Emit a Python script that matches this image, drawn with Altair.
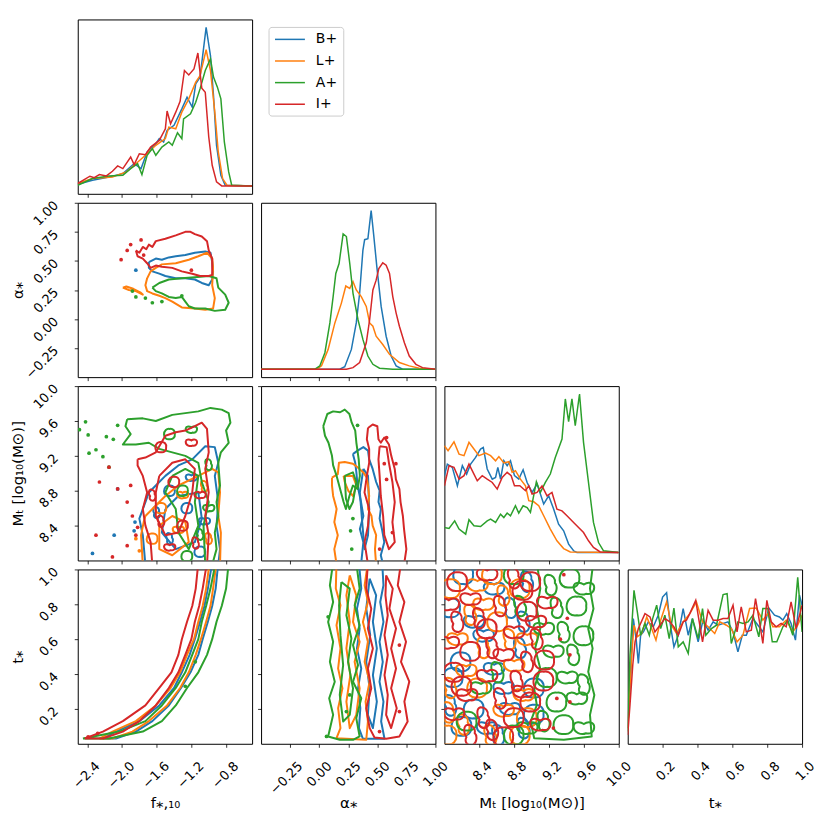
import altair as alt
import pandas as pd

FONT = "DejaVu Sans"
SERIES = ["B+", "L+", "A+", "I+"]
COLORS = ["#1f77b4", "#ff7f0e", "#2ca02c", "#d62728"]

# ---------------- axis ranges / ticks ----------------
F_DOMAIN = [-2.51, -0.5]
F_TICKS = [-2.4, -2.0, -1.6, -1.2, -0.8]
A_DOMAIN = [-0.5, 1.0]
A_TICKS = [-0.25, 0.0, 0.25, 0.5, 0.75, 1.0]
M_DOMAIN = [8.0, 10.0]
M_TICKS = [8.4, 8.8, 9.2, 9.6, 10.0]
T_DOMAIN = [0.0, 1.0]
T_TICKS = [0.2, 0.4, 0.6, 0.8, 1.0]
H_DOMAIN = [-0.05, 1.05]

F_TITLE = "f⁎,₁₀"
A_TITLE = "α⁎"
M_TITLE = "Mₜ [log₁₀(M⊙)]"
T_TITLE = "t⁎"

# ---------------- 1D marginals (relative height) ----------------
DF_X = {
    "B+": [-2.51, -2.34, -2.15, -1.99, -1.86, -1.78, -1.71, -1.61, -1.57, -1.52, -1.48, -1.40, -1.31, -1.25, -1.19, -1.15, -1.10, -1.03, -0.98, -0.945, -0.91, -0.86, -0.81, -0.5],
    "L+": [-2.51, -2.34, -2.11, -1.95, -1.84, -1.73, -1.61, -1.50, -1.46, -1.38, -1.31, -1.23, -1.15, -1.10, -1.03, -0.98, -0.93, -0.89, -0.84, -0.79, -0.5],
    "A+": [-2.51, -2.34, -2.15, -1.99, -1.90, -1.82, -1.77, -1.71, -1.65, -1.61, -1.54, -1.46, -1.42, -1.36, -1.31, -1.29, -1.21, -1.15, -1.10, -1.04, -0.98, -0.945, -0.90, -0.86, -0.82, -0.77, -0.735, -0.5],
    "I+": [-2.51, -2.37, -2.32, -2.26, -2.18, -2.11, -2.05, -1.99, -1.90, -1.86, -1.80, -1.73, -1.67, -1.57, -1.50, -1.48, -1.44, -1.38, -1.33, -1.28, -1.23, -1.17, -1.125, -1.08, -1.04, -1.00, -0.96, -0.91, -0.85, -0.5],
}
DF_H = {
    "B+": [0.01, 0.035, 0.056, 0.077, 0.14, 0.109, 0.214, 0.266, 0.298, 0.277, 0.35, 0.382, 0.486, 0.56, 0.497, 0.644, 0.686, 1.0, 0.822, 0.57, 0.256, 0.067, 0.004, 0.0],
    "L+": [0.015, 0.046, 0.056, 0.088, 0.14, 0.193, 0.256, 0.298, 0.371, 0.36, 0.465, 0.549, 0.654, 0.696, 0.859, 0.728, 0.465, 0.214, 0.046, 0.004, 0.0],
    "A+": [0.004, 0.046, 0.063, 0.067, 0.109, 0.14, 0.071, 0.193, 0.235, 0.193, 0.245, 0.277, 0.256, 0.335, 0.298, 0.423, 0.455, 0.528, 0.612, 0.728, 0.801, 0.686, 0.623, 0.549, 0.277, 0.088, 0.004, 0.0],
    "I+": [0.015, 0.061, 0.052, 0.071, 0.063, 0.092, 0.126, 0.109, 0.182, 0.134, 0.203, 0.197, 0.245, 0.287, 0.36, 0.472, 0.392, 0.465, 0.533, 0.728, 0.70, 0.738, 0.838, 0.616, 0.591, 0.31, 0.13, 0.025, 0.0, 0.0],
}

DA_X = {
    "B+": [-0.5, 0.177, 0.220, 0.277, 0.319, 0.348, 0.376, 0.391, 0.419, 0.447, 0.468, 0.496, 0.533, 0.576, 0.619, 0.662, 0.718, 1.0],
    "L+": [-0.5, -0.022, 0.020, 0.077, 0.135, 0.191, 0.229, 0.263, 0.291, 0.319, 0.362, 0.405, 0.434, 0.462, 0.490, 0.547, 0.605, 0.690, 0.775, 0.861, 1.0],
    "A+": [-0.5, -0.036, 0.006, 0.049, 0.092, 0.120, 0.143, 0.171, 0.206, 0.234, 0.263, 0.291, 0.334, 0.376, 0.419, 0.462, 0.519, 0.633, 1.0],
    "I+": [-0.5, 0.234, 0.291, 0.348, 0.405, 0.434, 0.462, 0.490, 0.513, 0.547, 0.576, 0.605, 0.633, 0.662, 0.690, 0.733, 0.775, 0.832, 0.889, 1.0],
}
DA_H = {
    "B+": [0, 0, 0.016, 0.125, 0.292, 0.479, 0.750, 0.817, 0.823, 1.0, 0.854, 0.646, 0.396, 0.208, 0.083, 0.021, 0, 0],
    "L+": [0, 0, 0.021, 0.125, 0.292, 0.417, 0.525, 0.510, 0.552, 0.500, 0.458, 0.396, 0.292, 0.271, 0.208, 0.156, 0.094, 0.042, 0.021, 0.006, 0],
    "A+": [0, 0, 0.021, 0.104, 0.292, 0.458, 0.604, 0.667, 0.854, 0.837, 0.667, 0.479, 0.312, 0.188, 0.083, 0.031, 0.006, 0, 0],
    "I+": [0, 0, 0.010, 0.042, 0.167, 0.312, 0.500, 0.562, 0.635, 0.671, 0.656, 0.604, 0.458, 0.354, 0.271, 0.167, 0.083, 0.031, 0.010, 0],
}

DM_X = {
    "B+": [8.00, 8.034, 8.091, 8.149, 8.206, 8.255, 8.301, 8.358, 8.415, 8.446, 8.491, 8.549, 8.587, 8.613, 8.644, 8.682, 8.720, 8.758, 8.804, 8.853, 8.903, 8.949, 9.006, 9.063, 9.139, 9.196, 9.253, 9.310, 9.368, 9.425, 9.482, 9.520, 10.0],
    "L+": [8.00, 8.042, 8.110, 8.168, 8.225, 8.282, 8.339, 8.396, 8.472, 8.530, 8.587, 8.625, 8.682, 8.739, 8.777, 8.815, 8.872, 8.930, 8.968, 9.025, 9.082, 9.139, 9.215, 9.291, 9.368, 9.444, 10.0],
    "A+": [8.00, 8.053, 8.118, 8.168, 8.244, 8.282, 8.339, 8.415, 8.491, 8.530, 8.587, 8.644, 8.682, 8.720, 8.758, 8.815, 8.853, 8.903, 8.949, 8.987, 9.055, 9.101, 9.158, 9.215, 9.272, 9.349, 9.387, 9.425, 9.463, 9.501, 9.550, 9.596, 9.653, 9.710, 9.768, 9.825, 10.0],
    "I+": [8.00, 8.053, 8.110, 8.168, 8.225, 8.282, 8.339, 8.377, 8.434, 8.491, 8.549, 8.606, 8.663, 8.720, 8.766, 8.804, 8.865, 8.930, 8.968, 9.006, 9.063, 9.120, 9.177, 9.234, 9.291, 9.349, 9.406, 9.482, 9.539, 9.596, 9.653, 9.710, 9.787, 10.0],
}
DM_H = {
    "B+": [0.485, 0.558, 0.537, 0.421, 0.548, 0.495, 0.558, 0.600, 0.653, 0.663, 0.527, 0.463, 0.474, 0.537, 0.463, 0.579, 0.548, 0.579, 0.485, 0.463, 0.522, 0.442, 0.379, 0.432, 0.306, 0.358, 0.274, 0.179, 0.137, 0.053, 0.011, 0.0, 0.0],
    "L+": [0.674, 0.642, 0.699, 0.621, 0.611, 0.695, 0.653, 0.611, 0.628, 0.611, 0.579, 0.605, 0.565, 0.573, 0.506, 0.516, 0.463, 0.421, 0.327, 0.320, 0.295, 0.232, 0.148, 0.074, 0.025, 0.004, 0.0],
    "A+": [0.158, 0.152, 0.200, 0.148, 0.116, 0.207, 0.169, 0.164, 0.200, 0.211, 0.190, 0.242, 0.221, 0.249, 0.232, 0.295, 0.249, 0.295, 0.284, 0.253, 0.447, 0.379, 0.442, 0.495, 0.600, 0.716, 0.969, 0.826, 0.969, 0.800, 1.0, 0.695, 0.442, 0.190, 0.063, 0.011, 0.0],
    "I+": [0.421, 0.548, 0.537, 0.463, 0.485, 0.558, 0.495, 0.453, 0.485, 0.463, 0.442, 0.400, 0.474, 0.506, 0.485, 0.421, 0.421, 0.390, 0.421, 0.369, 0.379, 0.421, 0.358, 0.379, 0.274, 0.263, 0.232, 0.190, 0.158, 0.126, 0.074, 0.032, 0.004, 0.0],
}

DT_X = {
    "B+": [0.0, 0.013, 0.032, 0.048, 0.061, 0.074, 0.090, 0.118, 0.147, 0.175, 0.200, 0.223, 0.242, 0.265, 0.290, 0.318, 0.347, 0.371, 0.404, 0.432, 0.461, 0.490, 0.518, 0.575, 0.604, 0.632, 0.657, 0.680, 0.718, 0.747, 0.775, 0.810, 0.842, 0.870, 0.890, 0.912, 0.937, 0.962, 0.985, 1.0],
    "L+": [0.0, 0.023, 0.036, 0.055, 0.080, 0.109, 0.137, 0.162, 0.189, 0.223, 0.251, 0.280, 0.318, 0.356, 0.394, 0.429, 0.461, 0.499, 0.528, 0.566, 0.594, 0.627, 0.661, 0.699, 0.737, 0.775, 0.804, 0.832, 0.870, 0.909, 0.947, 0.975, 1.0],
    "A+": [0.0, 0.013, 0.036, 0.055, 0.074, 0.099, 0.124, 0.143, 0.166, 0.189, 0.213, 0.238, 0.265, 0.290, 0.318, 0.347, 0.371, 0.404, 0.429, 0.448, 0.480, 0.509, 0.547, 0.570, 0.594, 0.632, 0.661, 0.690, 0.718, 0.752, 0.775, 0.804, 0.829, 0.855, 0.890, 0.918, 0.947, 0.975, 1.0],
    "I+": [0.0, 0.013, 0.029, 0.042, 0.061, 0.099, 0.128, 0.156, 0.185, 0.213, 0.242, 0.265, 0.290, 0.318, 0.337, 0.356, 0.390, 0.429, 0.461, 0.490, 0.518, 0.547, 0.575, 0.604, 0.627, 0.651, 0.680, 0.709, 0.733, 0.756, 0.775, 0.798, 0.823, 0.851, 0.880, 0.909, 0.937, 0.966, 1.0],
}
DT_H = {
    "B+": [0.048, 0.300, 0.740, 0.614, 0.457, 0.635, 0.656, 0.719, 0.688, 0.761, 0.876, 0.903, 0.719, 0.562, 0.635, 0.803, 0.635, 0.740, 0.593, 0.730, 0.667, 0.719, 0.698, 0.719, 0.656, 0.530, 0.635, 0.635, 0.740, 0.698, 0.656, 0.806, 0.761, 0.750, 0.730, 0.771, 0.709, 0.604, 0.887, 0.824],
    "L+": [0.048, 0.509, 0.698, 0.625, 0.646, 0.750, 0.677, 0.604, 0.730, 0.845, 0.698, 0.646, 0.719, 0.771, 0.845, 0.719, 0.688, 0.646, 0.719, 0.698, 0.677, 0.593, 0.635, 0.803, 0.806, 0.730, 0.771, 0.688, 0.688, 0.730, 0.656, 0.698, 0.761],
    "A+": [0.027, 0.509, 0.918, 0.782, 0.635, 0.709, 0.635, 0.740, 0.824, 0.677, 0.761, 0.614, 0.806, 0.562, 0.593, 0.520, 0.740, 0.614, 0.803, 0.635, 0.677, 0.698, 0.891, 0.897, 0.583, 0.719, 0.709, 0.719, 0.761, 0.625, 0.803, 0.803, 0.593, 0.593, 0.688, 0.730, 0.635, 1.0, 0.656],
    "I+": [0.006, 0.195, 0.447, 0.593, 0.677, 0.771, 0.750, 0.656, 0.698, 0.740, 0.719, 0.688, 0.635, 0.719, 0.730, 0.771, 0.855, 0.593, 0.792, 0.730, 0.730, 0.740, 0.740, 0.824, 0.656, 0.813, 0.656, 0.667, 0.866, 0.719, 0.583, 0.855, 0.719, 0.688, 0.709, 0.688, 0.845, 0.677, 0.824],
}

# ---------------- 2D contours: closed loops, islands, small rings ----------------
FA_LOOPS = {
    "B+": [([-1.69, -1.61, -1.54, -1.46, -1.38, -1.27, -1.16, -1.04, -0.98, -0.96, -0.95, -0.96, -1.00, -1.08, -1.16, -1.27, -1.38, -1.50, -1.57, -1.65, -1.69],
            [0.49, 0.52, 0.51, 0.53, 0.54, 0.55, 0.57, 0.58, 0.57, 0.49, 0.41, 0.34, 0.29, 0.31, 0.34, 0.35, 0.35, 0.37, 0.39, 0.41, 0.44])],
    "L+": [([-1.71, -1.67, -1.61, -1.54, -1.38, -1.23, -1.12, -1.02, -0.96, -0.95, -0.96, -0.93, -0.95, -1.04, -1.16, -1.31, -1.42, -1.50, -1.57, -1.65, -1.71, -1.73],
            [0.35, 0.41, 0.44, 0.47, 0.48, 0.51, 0.54, 0.57, 0.52, 0.44, 0.29, 0.18, 0.09, 0.08, 0.09, 0.10, 0.15, 0.18, 0.20, 0.22, 0.24, 0.29]),
           ([-1.99, -1.92, -1.84, -1.76, -1.79, -1.87, -1.95], [0.27, 0.25, 0.24, 0.21, 0.23, 0.26, 0.28])],
    "A+": [([-1.65, -1.57, -1.46, -1.31, -1.16, -1.00, -0.91, -0.89, -0.81, -0.77, -0.81, -0.93, -1.04, -1.16, -1.23, -1.27, -1.31, -1.38, -1.46, -1.54, -1.61],
            [0.27, 0.31, 0.34, 0.35, 0.36, 0.37, 0.35, 0.27, 0.21, 0.14, 0.08, 0.07, 0.09, 0.09, 0.11, 0.15, 0.19, 0.18, 0.19, 0.22, 0.24])],
    "I+": [([-1.84, -1.80, -1.76, -1.72, -1.69, -1.65, -1.61, -1.50, -1.38, -1.27, -1.21, -1.16, -1.08, -1.02, -1.00, -0.96, -0.96, -0.96, -1.00, -1.10, -1.19, -1.31, -1.42, -1.54, -1.61, -1.67, -1.71, -1.76, -1.82],
            [0.59, 0.57, 0.62, 0.60, 0.64, 0.62, 0.67, 0.69, 0.72, 0.75, 0.75, 0.73, 0.71, 0.67, 0.59, 0.52, 0.44, 0.38, 0.37, 0.37, 0.39, 0.41, 0.44, 0.45, 0.46, 0.44, 0.48, 0.52, 0.54])],
}
FA_DOTS = {
    "B+": ([-1.84], [0.42]),
    "A+": ([-1.88, -1.84, -1.73, -1.65, -1.54, -1.31], [0.24, 0.19, 0.18, 0.14, 0.15, 0.20]),
    "I+": ([-2.01, -1.94, -1.90, -1.78, -1.75, -1.20], [0.51, 0.59, 0.64, 0.68, 0.55, 0.42]),
}

FM_LOOPS = {
    "B+": [([-1.61, -1.50, -1.35, -1.19, -1.04, -0.93, -0.89, -0.93, -0.89, -0.91, -0.87, -0.89, -1.73, -1.76, -1.80, -1.73, -1.69],
            [8.86, 8.97, 9.09, 9.16, 9.31, 9.30, 9.12, 8.97, 8.67, 8.40, 8.13, 7.95, 7.95, 8.29, 8.48, 8.67, 8.78]),
           ([-1.50, -1.35, -1.12, -1.08, -1.16, -1.38, -1.54], [8.59, 8.74, 8.78, 8.48, 8.21, 8.13, 8.32])],
    "L+": [([-1.73, -1.61, -1.50, -1.35, -1.12, -0.96, -0.89, -0.87, -0.89, -0.86, -0.87, -1.76, -1.78, -1.75],
            [8.51, 8.63, 8.74, 8.86, 8.97, 9.05, 9.01, 8.78, 8.51, 8.32, 7.95, 7.95, 8.29, 8.44]),
           ([-1.57, -1.42, -1.27, -1.23, -1.42, -1.57], [8.40, 8.51, 8.44, 8.21, 8.06, 8.13])],
    "A+": [([-1.94, -1.76, -1.61, -1.42, -1.27, -1.12, -0.98, -0.85, -0.77, -0.75, -0.80, -0.77, -0.86, -0.89, -0.87, -0.91, -0.89, -0.93, -0.91, -0.96, -1.04, -1.06, -1.00, -1.08, -1.12, -1.27, -1.42, -1.57, -1.69, -1.84, -1.99, -1.90, -1.96],
            [9.62, 9.63, 9.60, 9.67, 9.69, 9.71, 9.75, 9.73, 9.69, 9.58, 9.49, 9.35, 9.24, 9.12, 8.86, 8.67, 8.51, 8.32, 8.13, 7.95, 7.95, 8.40, 8.67, 8.90, 9.12, 9.20, 9.24, 9.28, 9.35, 9.33, 9.33, 9.45, 9.54]),
           ([-1.42, -1.27, -1.12, -1.16, -1.12, -1.23, -1.35, -1.38, -1.50], [8.97, 9.05, 8.97, 8.67, 8.40, 8.13, 8.32, 8.59, 8.78])],
    "I+": [([-1.82, -1.73, -1.61, -1.50, -1.38, -1.27, -1.16, -1.08, -1.02, -1.00, -1.04, -1.00, -1.04, -1.00, -1.02, -1.65, -1.67, -1.73, -1.76, -1.71, -1.76, -1.82],
            [9.16, 9.18, 9.24, 9.43, 9.47, 9.49, 9.54, 9.58, 9.51, 9.24, 9.05, 8.78, 8.51, 8.29, 7.95, 7.95, 8.21, 8.40, 8.59, 8.78, 8.97, 9.09]),
           ([-1.57, -1.42, -1.27, -1.16, -1.19, -1.27, -1.35, -1.50, -1.61, -1.61], [8.97, 9.12, 9.16, 9.05, 8.78, 8.51, 8.32, 8.29, 8.51, 8.78])],
}
FM_DOTS = {
    "B+": ([-1.85, -1.86, -2.05, -2.34, -2.09], [8.44, 8.34, 8.82, 8.08, 8.29]),
    "L+": ([-1.84, -1.80], [8.25, 8.11]),
    "A+": ([-2.49, -2.42, -2.39, -2.38, -2.30, -2.22, -2.18, -2.10, -2.05, -2.15], [9.50, 9.59, 9.44, 9.23, 9.27, 9.19, 9.42, 9.39, 9.55, 9.07]),
    "I+": ([-2.26, -2.15, -2.05, -1.90, -1.94, -1.88, -1.84, -1.94, -2.11, -2.30, -1.82], [8.90, 9.07, 8.82, 8.86, 8.67, 8.51, 8.29, 8.17, 8.04, 8.29, 8.38]),
}
FM_RINGS = {
    "B+": ([-1.45, -1.20, -1.60, -1.25, -1.05, -1.45, -1.10], [8.80, 8.95, 8.55, 8.60, 8.45, 8.25, 8.10]),
    "L+": ([-1.55, -1.30, -1.05, -1.65, -1.35, -1.00], [8.60, 8.75, 8.85, 8.25, 8.35, 8.25]),
    "A+": ([-1.45, -1.20, -1.00, -1.30, -1.00, -1.10, -1.25], [9.45, 9.50, 9.10, 8.80, 8.60, 8.30, 8.05]),
    "I+": ([-1.55, -1.20, -1.65, -1.40, -1.10, -1.55, -1.30, -1.45, -1.15], [9.30, 9.35, 8.75, 8.90, 8.75, 8.45, 8.40, 8.15, 8.20]),
}

AM_LOOPS = {
    "B+": [([0.29, 0.33, 0.38, 0.42, 0.43, 0.46, 0.49, 0.52, 0.51, 0.53, 0.52, 0.54, 0.56, 0.53, 0.55, 0.36, 0.38, 0.35, 0.38, 0.36, 0.33, 0.32, 0.31],
            [9.22, 9.26, 9.30, 9.26, 9.16, 9.05, 8.90, 8.80, 8.67, 8.59, 8.48, 8.36, 8.21, 8.06, 7.95, 7.95, 8.21, 8.36, 8.51, 8.67, 8.86, 9.01, 9.12]),
           ([0.38, 0.42, 0.43, 0.42, 0.39, 0.37, 0.35], [9.05, 8.97, 8.59, 8.29, 8.13, 8.44, 8.78])],
    "L+": [([0.11, 0.16, 0.17, 0.22, 0.29, 0.33, 0.38, 0.41, 0.42, 0.43, 0.42, 0.45, 0.46, 0.49, 0.48, 0.49, 0.15, 0.13, 0.16, 0.13, 0.15, 0.12, 0.11],
            [8.95, 8.99, 9.12, 9.13, 9.11, 9.07, 9.01, 8.95, 8.86, 8.74, 8.59, 8.51, 8.40, 8.29, 8.13, 7.95, 7.95, 8.13, 8.29, 8.44, 8.59, 8.74, 8.86]),
           ([0.21, 0.29, 0.32, 0.29, 0.25, 0.22], [8.97, 8.97, 8.86, 8.74, 8.80, 8.90])],
    "A+": [([0.035, 0.07, 0.12, 0.18, 0.22, 0.26, 0.28, 0.31, 0.32, 0.34, 0.35, 0.33, 0.29, 0.26, 0.23, 0.21, 0.18, 0.15, 0.12, 0.11, 0.08, 0.05],
            [9.54, 9.68, 9.71, 9.70, 9.73, 9.68, 9.58, 9.49, 9.35, 9.16, 8.97, 8.82, 8.86, 8.74, 8.59, 8.67, 8.82, 8.97, 9.09, 9.20, 9.35, 9.43]),
           ([0.22, 0.29, 0.32, 0.29, 0.26, 0.23], [8.97, 9.01, 8.90, 8.67, 8.59, 8.71])],
    "I+": [([0.42, 0.46, 0.50, 0.51, 0.53, 0.56, 0.60, 0.62, 0.65, 0.66, 0.69, 0.70, 0.72, 0.73, 0.75, 0.73, 0.42, 0.39, 0.42, 0.43, 0.39, 0.41, 0.43, 0.43, 0.41],
            [9.52, 9.56, 9.54, 9.39, 9.35, 9.41, 9.33, 9.20, 9.05, 8.93, 8.82, 8.67, 8.51, 8.36, 8.13, 7.95, 7.95, 8.21, 8.40, 8.59, 8.78, 8.97, 9.12, 9.28, 9.39]),
           ([0.52, 0.58, 0.60, 0.63, 0.65, 0.63, 0.65, 0.60, 0.56, 0.55, 0.53, 0.52, 0.51], [9.31, 9.30, 9.12, 8.90, 8.67, 8.44, 8.21, 8.13, 8.29, 8.51, 8.74, 8.97, 9.16])],
}
AM_DOTS = {
    "A+": ([0.29, 0.27, 0.28, 0.33], [8.48, 8.34, 8.13, 9.55]),
    "I+": ([0.58, 0.66, 0.56, 0.58, 0.63, 0.52], [9.41, 9.11, 9.11, 8.93, 8.32, 8.13]),
}

FT_T = [0.03, 0.07, 0.13, 0.22, 0.32, 0.41, 0.51, 0.60, 0.70, 0.79, 0.89, 1.04]
FT_LEFT = {
    "B+": [-2.22, -2.07, -1.80, -1.57, -1.40, -1.31, -1.22, -1.16, -1.10, -1.05, -1.01, -0.96],
    "L+": [-2.26, -2.11, -1.84, -1.61, -1.44, -1.33, -1.25, -1.17, -1.12, -1.07, -1.03, -0.99],
    "A+": [-2.45, -2.03, -1.73, -1.54, -1.38, -1.27, -1.19, -1.12, -1.08, -1.03, -0.98, -0.92],
    "I+": [-2.43, -2.22, -1.99, -1.73, -1.57, -1.43, -1.35, -1.31, -1.25, -1.19, -1.15, -1.12],
}
FT_RIGHT = {
    "B+": [-2.07, -1.84, -1.65, -1.46, -1.32, -1.21, -1.12, -1.07, -1.01, -0.96, -0.92, -0.89],
    "L+": [-2.11, -1.88, -1.69, -1.48, -1.33, -1.23, -1.15, -1.09, -1.03, -0.98, -0.95, -0.91],
    "A+": [-2.15, -1.76, -1.54, -1.38, -1.25, -1.12, -1.02, -0.96, -0.91, -0.85, -0.80, -0.77],
    "I+": [-2.22, -1.99, -1.80, -1.61, -1.46, -1.35, -1.27, -1.20, -1.16, -1.11, -1.07, -1.02],
}
FT_DOTS = {
    "A+": ([-1.27, -1.155], [0.33, 0.47]),
    "I+": ([-2.39, -2.28], [0.04, 0.06]),
}

AT_LOOPS = {
    "B+": [([0.342, 0.362, 0.325, 0.348, 0.325, 0.362, 0.334, 0.354, 0.342, 0.376, 0.562, 0.533, 0.553, 0.519, 0.547, 0.519, 0.553, 0.525, 0.553, 0.542],
            [1.04, 0.890, 0.775, 0.661, 0.547, 0.432, 0.318, 0.204, 0.090, 0.029, 0.029, 0.128, 0.242, 0.356, 0.470, 0.585, 0.699, 0.813, 0.909, 1.04]),
           ([0.434, 0.490, 0.462, 0.496, 0.462, 0.496, 0.462, 0.419, 0.434, 0.405, 0.439, 0.405],
            [0.947, 0.851, 0.699, 0.547, 0.394, 0.242, 0.090, 0.166, 0.318, 0.470, 0.623, 0.775])],
    "L+": [([0.149, 0.143, 0.183, 0.149, 0.183, 0.163, 0.200, 0.163, 0.183, 0.149, 0.405, 0.419, 0.399, 0.434, 0.391, 0.419, 0.376, 0.419, 0.391, 0.419],
            [1.04, 0.890, 0.794, 0.680, 0.547, 0.432, 0.318, 0.204, 0.090, 0.032, 0.023, 0.128, 0.242, 0.356, 0.470, 0.585, 0.699, 0.813, 0.909, 1.04]),
           ([0.263, 0.319, 0.291, 0.348, 0.305, 0.348, 0.319, 0.263, 0.234, 0.268, 0.234, 0.263, 0.234],
            [0.966, 0.851, 0.699, 0.585, 0.470, 0.318, 0.166, 0.090, 0.242, 0.394, 0.547, 0.699, 0.851])],
    "A+": [([0.120, 0.092, 0.120, 0.077, 0.120, 0.092, 0.134, 0.086, 0.120, 0.077, 0.177, 0.291, 0.348, 0.319, 0.362, 0.291, 0.334, 0.291, 0.348, 0.305, 0.348, 0.319],
            [1.04, 0.909, 0.813, 0.699, 0.585, 0.470, 0.356, 0.261, 0.166, 0.042, 0.023, 0.023, 0.042, 0.147, 0.261, 0.356, 0.451, 0.566, 0.680, 0.794, 0.890, 1.04]),
           ([0.191, 0.263, 0.234, 0.277, 0.248, 0.291, 0.263, 0.206, 0.177, 0.206, 0.183, 0.171],
            [0.928, 0.890, 0.737, 0.604, 0.470, 0.318, 0.166, 0.128, 0.280, 0.451, 0.623, 0.794])],
    "I+": [([0.419, 0.405, 0.448, 0.419, 0.462, 0.419, 0.448, 0.405, 0.434, 0.476, 0.576, 0.690, 0.761, 0.733, 0.775, 0.704, 0.747, 0.690, 0.733, 0.676, 0.704],
            [1.04, 0.890, 0.775, 0.661, 0.547, 0.432, 0.318, 0.204, 0.090, 0.036, 0.029, 0.042, 0.128, 0.242, 0.356, 0.470, 0.585, 0.699, 0.813, 0.909, 1.04]),
           ([0.576, 0.633, 0.604, 0.661, 0.619, 0.661, 0.619, 0.667, 0.619, 0.576, 0.590, 0.562, 0.590, 0.562, 0.590, 0.570],
            [0.966, 0.890, 0.775, 0.661, 0.547, 0.432, 0.318, 0.204, 0.090, 0.166, 0.280, 0.394, 0.509, 0.623, 0.737, 0.851])],
}
AT_DOTS = {
    "A+": ([0.077, 0.063, 0.263, 0.234], [0.728, 0.042, 0.280, 0.185]),
    "I+": ([0.690, 0.690, 0.519], [0.566, 0.185, 0.070]),
}

MT_LOOPS = {
    "A+": [([9.06, 9.71, 9.67, 9.71, 9.65, 9.70, 9.65, 9.72, 9.67, 9.69, 9.37, 9.03, 8.99, 9.06, 9.03, 9.10, 9.04, 9.10, 9.06, 9.10],
            [1.05, 1.05, 0.89, 0.775, 0.66, 0.547, 0.413, 0.28, 0.166, 0.042, 0.023, 0.032, 0.128, 0.222, 0.318, 0.432, 0.547, 0.661, 0.775, 0.89])],
}
MT_RINGS = {
    "B+": ([8.22, 8.57, 8.76, 8.07, 8.34, 8.91, 8.19, 8.57, 8.87, 8.34, 8.68, 8.07, 9.03, 8.49, 8.91, 9.03, 8.45, 8.95, 8.20, 8.75, 8.62, 8.10],
           [0.97, 0.89, 0.78, 0.78, 0.70, 0.70, 0.47, 0.43, 0.55, 0.20, 0.32, 0.22, 0.17, 0.09, 0.09, 0.32, 0.62, 0.93, 0.10, 0.20, 0.05, 0.38]),
    "L+": ([8.07, 8.38, 8.68, 8.87, 8.15, 8.45, 8.61, 8.80, 8.07, 8.38, 8.68, 8.22, 8.87, 8.91, 8.53, 8.03, 8.95, 8.30, 8.55, 8.25, 8.75, 8.95, 8.45, 8.05],
           [0.89, 0.91, 0.85, 0.89, 0.60, 0.55, 0.70, 0.45, 0.32, 0.32, 0.19, 0.11, 0.05, 0.28, 0.05, 0.05, 0.60, 0.74, 0.97, 0.42, 0.60, 0.15, 0.80, 0.18]),
    "A+": ([8.26, 8.42, 8.61, 8.80, 8.95, 9.22, 9.44, 9.60, 9.29, 9.52, 9.14, 9.37, 9.60, 9.25, 9.48, 9.18, 9.41, 9.60, 9.29, 9.52, 9.14, 9.37, 9.60, 8.87, 8.80],
           [0.13, 0.32, 0.41, 0.05, 0.09, 0.91, 0.95, 0.89, 0.78, 0.79, 0.66, 0.64, 0.62, 0.53, 0.51, 0.38, 0.38, 0.34, 0.24, 0.26, 0.13, 0.11, 0.09, 0.79, 0.97]),
    "I+": ([8.15, 8.49, 8.80, 8.99, 8.30, 8.64, 8.95, 9.18, 8.15, 8.49, 8.80, 9.06, 8.30, 8.68, 8.95, 8.11, 8.49, 8.83, 9.14, 8.26, 8.64, 8.99, 8.11, 8.45, 8.80, 9.10, 8.30, 8.68,
            8.05, 8.40, 8.90, 9.05, 8.55, 8.20, 8.90, 8.55, 9.15, 8.05],
           [0.93, 0.97, 0.95, 0.93, 0.83, 0.79, 0.76, 0.81, 0.70, 0.66, 0.64, 0.60, 0.53, 0.51, 0.47, 0.41, 0.39, 0.36, 0.36, 0.28, 0.26, 0.24, 0.17, 0.15, 0.15, 0.11, 0.05, 0.04,
            0.80, 0.72, 0.88, 0.70, 0.55, 0.33, 0.30, 0.08, 0.48, 0.58]),
}
MT_DOTS = {
    "I+": ([9.37, 9.41, 9.44, 9.29, 9.44, 9.25, 9.33], [0.97, 0.72, 0.51, 0.26, 0.24, 0.09, 0.60]),
}

# ---------------- helpers ----------------
W = 175
H = 175
BLOBS = [
    "M-1,0.1C-1,-0.6 -0.5,-1 0,-0.9C0.6,-1 1,-0.5 0.9,0C1,0.6 0.5,1 0,0.9C-0.6,1 -1,0.6 -1,0.1Z",
    "M-1,-0.2C-0.9,-0.7 -0.3,-0.6 0,-0.4C0.4,-0.7 1,-0.6 1,-0.1C1,0.4 0.6,0.6 0.2,0.5C-0.2,0.7 -1,0.5 -1,-0.2Z",
    "M-0.3,-1C0.2,-1 0.5,-0.6 0.4,-0.2C0.7,0.1 0.6,0.9 0.1,1C-0.4,1 -0.6,0.6 -0.4,0.2C-0.7,-0.2 -0.7,-0.9 -0.3,-1Z",
]


def loops_frame(loops):
    rows = []
    for s, paths in loops.items():
        for p, (xs, ys) in enumerate(paths):
            pts = list(zip(xs, ys)) + [(xs[0], ys[0])]
            for k, (x, y) in enumerate(pts):
                rows.append({"series": s, "path": p, "k": k, "x": x, "y": y})
    return pd.DataFrame(rows, columns=["series", "path", "k", "x", "y"])


def pts_frame(d):
    rows = []
    for s, (xs, ys) in d.items():
        for i, (x, y) in enumerate(zip(xs, ys)):
            rows.append({"series": s, "x": x, "y": y, "kind": i % 3})
    return pd.DataFrame(rows, columns=["series", "x", "y", "kind"])


def x_axis(ticks, fmt, title, show):
    kw = dict(values=ticks, tickSize=3.5, tickWidth=0.8, tickColor="black",
              domain=False, grid=False, labels=show)
    if show:
        kw.update(format=fmt, labelAngle=315, labelAlign="right", labelBaseline="middle",
                  labelPadding=16.5, labelOffset=10, labelFontSize=13, labelColor="black",
                  labelOverlap=False, labelFlush=False, labelFont=FONT,
                  title=title, titleFont=FONT, titleFontSize=15, titleFontWeight="normal",
                  titleColor="black", titleX=87.5, titleY=52, titleAlign="center",
                  titleBaseline="top", titleAngle=0)
    else:
        kw["title"] = None
    return alt.Axis(**kw)


def y_axis(ticks, fmt, title, show):
    kw = dict(values=ticks, tickSize=3.5, tickWidth=0.8, tickColor="black",
              domain=False, grid=False, labels=show)
    if show:
        kw.update(format=fmt, labelAngle=315, labelAlign="right", labelBaseline="middle",
                  labelPadding=18.5, labelFontSize=13, labelColor="black",
                  labelOverlap=False, labelFlush=False, labelFont=FONT,
                  title=title, titleFont=FONT, titleFontSize=15, titleFontWeight="normal",
                  titleColor="black", titleX=-52, titleY=87.5, titleAlign="center",
                  titleBaseline="bottom", titleAngle=270)
    else:
        kw["title"] = None
    return alt.Axis(**kw)


def diag_panel(xs_by, hs_by, xdom, xax):
    x = alt.X("x:Q", scale=alt.Scale(domain=xdom, nice=False, zero=False), axis=xax)
    y = alt.Y("h:Q", scale=alt.Scale(domain=H_DOMAIN, nice=False, zero=False), axis=None)
    layers = []
    for s, c in zip(SERIES, COLORS):
        df = pd.DataFrame({"x": xs_by[s], "h": hs_by[s]})
        layers.append(alt.Chart(df).mark_line(color=c, strokeWidth=1.5, clip=True)
                      .encode(x=x, y=y))
    return alt.layer(*layers).properties(width=W, height=H)


def contour_panel(xdom, ydom, xax, yax, loops=None, dots=None, rings=None, ring_size=120):
    x = alt.X("x:Q", scale=alt.Scale(domain=xdom, nice=False, zero=False), axis=xax)
    y = alt.Y("y:Q", scale=alt.Scale(domain=ydom, nice=False, zero=False), axis=yax)
    ldf = loops_frame(loops or {})
    ddf = pts_frame(dots or {})
    rdf = pts_frame(rings or {})
    shape = alt.Shape("kind:N", scale=alt.Scale(domain=[0, 1, 2], range=BLOBS), legend=None)
    layers = []
    for s, c in zip(SERIES, COLORS):
        sub = ldf[ldf.series == s]
        if len(sub):
            layers.append(alt.Chart(sub).mark_line(color=c, strokeWidth=2.0, clip=True, strokeJoin="round")
                          .encode(x=x, y=y, detail="path:N", order="k:Q"))
        sub = rdf[rdf.series == s]
        if len(sub):
            layers.append(alt.Chart(sub).mark_point(filled=False, color=c, size=ring_size,
                                                    strokeWidth=2.0, opacity=1, clip=True)
                          .encode(x=x, y=y, shape=shape))
        sub = ddf[ddf.series == s]
        if len(sub):
            layers.append(alt.Chart(sub).mark_point(shape="circle", filled=True, color=c, size=14,
                                                    opacity=1, clip=True)
                          .encode(x=x, y=y))
    return alt.layer(*layers).properties(width=W, height=H)


def empty_cell():
    return alt.Chart(pd.DataFrame({"v": [0]})).mark_point(opacity=0).encode(
        x=alt.X("v:Q", axis=None), y=alt.Y("v:Q", axis=None)
    ).properties(width=W, height=H, view=alt.ViewBackground(stroke=None))


def legend_cell():
    base = pd.DataFrame({"v": [0]})
    ldf = pd.DataFrame({"series": SERIES, "i": list(range(len(SERIES)))})
    box = alt.Chart(base).mark_rect(fill="white", stroke="#cccccc", strokeWidth=1, cornerRadius=3).encode(
        x=alt.value(8), x2=alt.value(83), y=alt.value(8), y2=alt.value(97))
    color = alt.Color("series:N", scale=alt.Scale(domain=SERIES, range=COLORS), legend=None)
    ly = alt.Y("ly:Q", scale=None, axis=None)
    lines = alt.Chart(ldf).transform_calculate(ly="20 + 21.7 * datum.i").mark_rule(strokeWidth=1.5).encode(
        x=alt.value(14), x2=alt.value(44), y=ly, color=color)
    texts = alt.Chart(ldf).transform_calculate(ly="20 + 21.7 * datum.i").mark_text(
        align="left", baseline="middle", fontSize=14, font=FONT, color="black").encode(
        x=alt.value(55), y=ly, text="series:N")
    return alt.layer(box, lines, texts).properties(width=W, height=H, view=alt.ViewBackground(stroke=None))


# ---------------- assemble ----------------
d_f = diag_panel(DF_X, DF_H, F_DOMAIN, x_axis(F_TICKS, ".1f", None, False))
d_a = diag_panel(DA_X, DA_H, A_DOMAIN, x_axis(A_TICKS, ".2f", None, False))
d_m = diag_panel(DM_X, DM_H, M_DOMAIN, x_axis(M_TICKS, ".1f", None, False))
d_t = diag_panel(DT_X, DT_H, T_DOMAIN, x_axis(T_TICKS, ".1f", T_TITLE, True))

fa = contour_panel(F_DOMAIN, A_DOMAIN, x_axis(F_TICKS, ".1f", None, False), y_axis(A_TICKS, ".2f", A_TITLE, True),
                   loops=FA_LOOPS, dots=FA_DOTS)
fm = contour_panel(F_DOMAIN, M_DOMAIN, x_axis(F_TICKS, ".1f", None, False), y_axis(M_TICKS, ".1f", M_TITLE, True),
                   loops=FM_LOOPS, dots=FM_DOTS, rings=FM_RINGS, ring_size=130)
am = contour_panel(A_DOMAIN, M_DOMAIN, x_axis(A_TICKS, ".2f", None, False), y_axis(M_TICKS, ".1f", None, False),
                   loops=AM_LOOPS, dots=AM_DOTS)

ft_loops = {s: [(FT_LEFT[s] + FT_RIGHT[s][::-1], FT_T + FT_T[::-1])] for s in SERIES}
ft = contour_panel(F_DOMAIN, T_DOMAIN, x_axis(F_TICKS, ".1f", F_TITLE, True), y_axis(T_TICKS, ".1f", T_TITLE, True),
                   loops=ft_loops, dots=FT_DOTS)
at = contour_panel(A_DOMAIN, T_DOMAIN, x_axis(A_TICKS, ".2f", A_TITLE, True), y_axis(T_TICKS, ".1f", None, False),
                   loops=AT_LOOPS, dots=AT_DOTS)
mt = contour_panel(M_DOMAIN, T_DOMAIN, x_axis(M_TICKS, ".1f", M_TITLE, True), y_axis(T_TICKS, ".1f", None, False),
                   loops=MT_LOOPS, dots=MT_DOTS, rings=MT_RINGS, ring_size=430)

cells = [d_f, legend_cell(), empty_cell(), empty_cell(),
         fa, d_a, empty_cell(), empty_cell(),
         fm, am, d_m, empty_cell(),
         ft, at, mt, d_t]

chart = alt.concat(*cells, columns=4, spacing=9, bounds="flush").properties(
    padding={"left": 2, "top": 9, "right": 5, "bottom": 5},
    background="white",
).configure_view(stroke="black", strokeWidth=1)

chart.save("out.html", embed_options={"renderer": "svg", "actions": False})
